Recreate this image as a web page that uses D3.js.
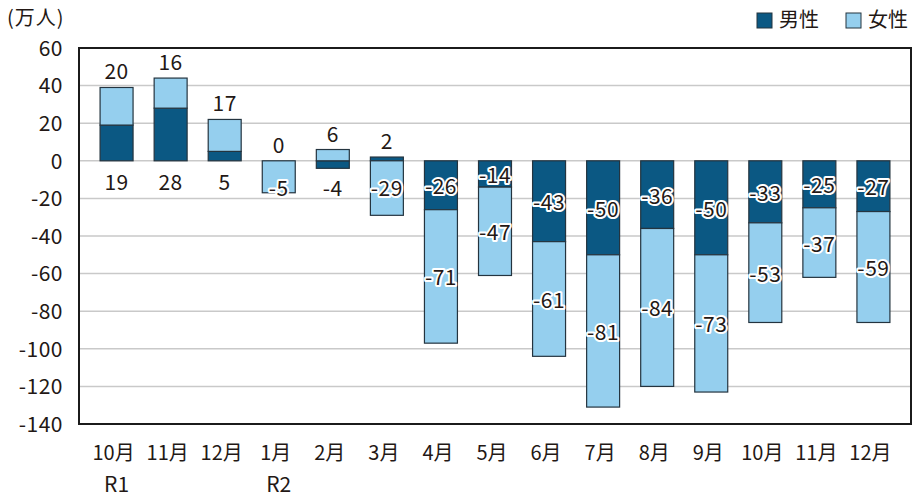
<!DOCTYPE html>
<html>
<head>
  <meta charset="UTF-8">
  <style>
    body { margin: 0; background: #fff; }
    text { font-family: "Noto Sans CJK JP", "Noto Sans", sans-serif; fill: #231815; }
    .grid line { stroke: #c9c9c9; stroke-width: 1.5px; }
    .seg { stroke: #24343f; stroke-width: 1.2px; }
    .val { font-size: 21px; letter-spacing: 0.5px; text-anchor: middle; dominant-baseline: central;
           paint-order: stroke; stroke: #fff; stroke-width: 4px; stroke-linejoin: round; }
  </style>
</head>
<body>
<svg id="chart"></svg>
<script src="https://d3js.org/d3.v7.min.js"></script>
<script>

// months (second line = era year)
var months = ["10月", "11月", "12月", "1月", "2月", "3月", "4月", "5月", "6月", "7月", "8月", "9月", "10月", "11月", "12月"];
var years  = ["R1", "", "", "R2", "", "", "", "", "", "", "", "", "", "", ""];

// bar values (万人)
var male   = [19, 28, 5, 0, -4, 2, -26, -14, -43, -50, -36, -50, -33, -25, -27];
var female = [20, 16, 17, -17, 6, -29, -71, -47, -61, -81, -84, -73, -53, -37, -59];
// printed labels (1月 female bar is drawn longer than its label in the source)
var maleLabel   = ["19", "28", "5", "0", "-4", "2", "-26", "-14", "-43", "-50", "-36", "-50", "-33", "-25", "-27"];
var femaleLabel = ["20", "16", "17", "-5", "6", "-29", "-71", "-47", "-61", "-81", "-84", "-73", "-53", "-37", "-59"];

var yTicks = [60, 40, 20, 0, -20, -40, -60, -80, -100, -120, -140];

var width = 914, height = 500;
var maleColor = "#0b5883", femaleColor = "#95cfee";

var svg = d3.select("#chart").attr("width", width).attr("height", height);

var x = d3.scaleBand().domain(d3.range(months.length)).range([79, 911]).padding(0.39);
var y = d3.scaleLinear().domain([-140, 60]).range([424, 48]);

// grid
svg.append("g").attr("class", "grid")
  .selectAll("line")
  .data(yTicks.filter(d => d > -140 && d < 60))
  .enter().append("line")
  .attr("x1", 79).attr("x2", 911)
  .attr("y1", d => y(d)).attr("y2", d => y(d));

// stack segments
var segs = [];
months.forEach(function (m, i) {
  var pos = 0, neg = 0;
  [["m", male[i], maleColor, maleLabel[i]], ["f", female[i], femaleColor, femaleLabel[i]]].forEach(function (s) {
    var v = s[1], y0, y1;
    if (v >= 0) { y0 = pos; y1 = pos + v; pos = y1; }
    else { y0 = neg; y1 = neg + v; neg = y1; }
    segs.push({ i: i, key: s[0], v: v, y0: y0, y1: y1, color: s[2], label: s[3] });
  });
  segs.filter(d => d.i === i).forEach(d => { d.posTop = pos; d.mixed = pos > 0 || male[i] === 0; });
});

svg.append("g")
  .selectAll("rect")
  .data(segs.filter(d => d.v !== 0))
  .enter().append("rect")
  .attr("class", "seg")
  .attr("x", d => x(d.i))
  .attr("width", x.bandwidth())
  .attr("y", d => y(Math.max(d.y0, d.y1)))
  .attr("height", d => Math.abs(y(d.y0) - y(d.y1)))
  .attr("fill", d => d.color);

// frame
svg.append("rect")
  .attr("x", 79).attr("y", 48).attr("width", 832).attr("height", 376)
  .attr("fill", "none").attr("stroke", "#1b1b1b").attr("stroke-width", 2);

// y axis (plain hyphen for negatives, as printed)
var yAxis = d3.axisLeft(y).tickValues(yTicks).tickSize(0).tickPadding(16).tickFormat(d => String(d));
var ga = svg.append("g").attr("transform", "translate(79,0)").call(yAxis);
ga.select(".domain").remove();
ga.selectAll("text").style("font-size", "21px").style("font-family", "Noto Sans CJK JP")
  .style("letter-spacing", "0.5px")
  .attr("fill", "#231815").attr("dy", "0.35em");

// x labels
var xl = svg.append("g").selectAll("text")
  .data(months)
  .enter().append("text")
  .attr("text-anchor", "middle")
  .style("font-size", "20px")
  .attr("x", (d, i) => x(i) + x.bandwidth() / 2 - 3)
  .attr("y", 460);
xl.append("tspan").text(d => d);
xl.append("tspan")
  .attr("x", (d, i) => x(i) + x.bandwidth() / 2)
  .attr("dy", 32)
  .style("font-size", "21px")
  .text((d, i) => years[i]);

// value labels
function labelY(d) {
  if (!d.mixed) return y((d.y0 + d.y1) / 2);
  var top = d.key === "f" || male[d.i] <= 0 || female[d.i] < 0;
  if (d.v >= 0 && top && d.y1 === d.posTop) return y(d.posTop) - 17;
  if (d.v > 0) return y(0) + 20;
  return y(0) + 26;
}
svg.append("g").selectAll("text")
  .data(segs)
  .enter().append("text")
  .attr("class", "val")
  .attr("x", d => x(d.i) + x.bandwidth() / 2)
  .attr("y", labelY)
  .text(d => d.label);

// unit
svg.append("text").attr("x", 7).attr("y", 25).style("font-size", "20px").style("letter-spacing", "1px").text("(万人)");

// legend
var legend = [["男性", maleColor, 757], ["女性", femaleColor, 846]];
var lg = svg.append("g").selectAll("g").data(legend).enter().append("g");
lg.append("rect")
  .attr("x", d => d[2]).attr("y", 13).attr("width", 15).attr("height", 15)
  .attr("fill", d => d[1]).attr("stroke", "#24343f").attr("stroke-width", 1);
lg.append("text")
  .attr("x", d => d[2] + 22).attr("y", 27)
  .style("font-size", "20px")
  .text(d => d[0]);

</script>
</body>
</html>
